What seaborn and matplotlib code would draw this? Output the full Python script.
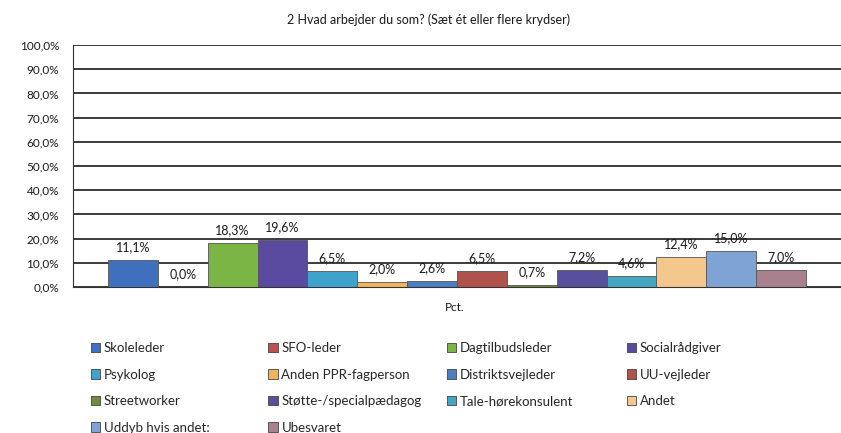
import matplotlib
matplotlib.use("Agg")
import matplotlib.pyplot as plt
import matplotlib.patches as mpatches
import pandas as pd
import seaborn as sns

# data
categories = ["Skoleleder", "SFO-leder", "Dagtilbudsleder", "Socialrådgiver",
              "Psykolog", "Anden PPR-fagperson", "Distriktsvejleder", "UU-vejleder",
              "Streetworker", "Støtte-/specialpædagog", "Tale-hørekonsulent", "Andet",
              "Uddyb hvis andet:", "Ubesvaret"]
values = [11.1, 0.0, 18.3, 19.6, 6.5, 2.0, 2.6, 6.5, 0.7, 7.2, 4.6, 12.4, 15.0, 7.0]
colors = ["#3f70c0", "#c0504d", "#7bb545", "#5a4aa0", "#3fa2cc", "#f2b45a",
          "#4a7ec0", "#b0524c", "#6f8a3a", "#57509c", "#45a6c2", "#f4c88c",
          "#7fa3d4", "#a9808e"]
group = "Pct."
title = "2 Hvad arbejder du som? (Sæt ét eller flere krydser)"

df = pd.DataFrame({"grp": [group] * len(values), "serie": categories, "pct": values})

sns.set_style("white")
plt.rcParams["font.family"] = ["Lato", "DejaVu Sans"]

fig = plt.figure(figsize=(8.41, 4.33), dpi=100)
ax = fig.add_axes([0.0868, 0.337, 0.9132, 0.559])

sns.barplot(data=df, x="grp", y="pct", hue="serie", hue_order=categories,
            palette=colors, saturation=1, width=0.909, ax=ax, legend=False,
            edgecolor="#555555", linewidth=0.6)

ax.set_ylim(0, 100)
ax.set_xlim(-0.5, 0.5)
ax.set_yticks(range(0, 101, 10))
ax.set_yticklabels([f"{v},0%" for v in range(0, 101, 10)], fontsize=8.5, color="#1a1a1a")
ax.tick_params(axis="y", length=0, pad=10)
ax.set_xticks([])
ax.set_xlabel("")
ax.set_ylabel("")
ax.yaxis.grid(True, color="#1a1a1a", linewidth=1.2)
ax.set_axisbelow(True)
for s in ["top", "right"]:
    ax.spines[s].set_visible(False)
ax.spines["left"].set_color("#333333")
ax.spines["bottom"].set_color("#333333")

for cont in ax.containers:
    ax.bar_label(cont, labels=[f"{v:.1f}%".replace(".", ",") for v in cont.datavalues],
                 padding=5, fontsize=9, color="#1a1a1a")

fig.text(0.51, 0.955, title, ha="center", va="center", fontsize=9, color="#1a1a1a")
fig.text(0.541, 0.29, group, ha="center", va="center", fontsize=8.5, color="#1a1a1a")

# legend: 4 columns laid out row-wise like the original
col_x = [0.108, 0.319, 0.531, 0.745]
for c in range(4):
    idx = list(range(c, len(categories), 4))
    handles = [mpatches.Patch(facecolor=colors[i], edgecolor="#444444", linewidth=0.6)
               for i in idx]
    fig.legend(handles, [categories[i] for i in idx], loc="upper left",
               bbox_to_anchor=(col_x[c], 0.21), frameon=False, fontsize=9.5,
               handlelength=0.7, handleheight=0.7, handletextpad=0.3,
               labelspacing=1.1, borderaxespad=0, borderpad=0)

fig.savefig("out.png", dpi=100)
